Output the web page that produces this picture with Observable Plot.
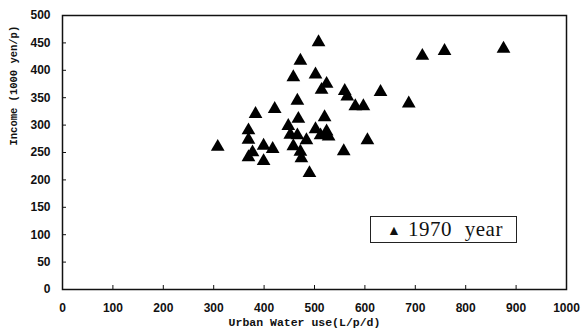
<!DOCTYPE html>
<html>
<head>
<meta charset="utf-8">
<script src="https://cdn.jsdelivr.net/npm/d3@7"></script>
<script src="https://cdn.jsdelivr.net/npm/@observablehq/plot@0.6"></script>
<style>
  html, body { margin: 0; padding: 0; background: #fff; }
  #wrap { position: relative; width: 581px; height: 333px; }
  #legend {
    position: absolute; left: 370px; top: 216px; width: 145px; height: 25px;
    border: 1.5px solid #222; background: #fff; box-sizing: content-box;
    font-family: "Liberation Serif", "DejaVu Serif", serif; font-size: 21px;
    line-height: 25px; color: #111; white-space: nowrap;
  }
  #legend .sym { position: absolute; left: 16px; top: 0px; font-size: 14px; line-height: 27px; }
  #legend .txt { position: absolute; left: 37px; top: 0px; word-spacing: 7px; letter-spacing: 0.5px; }
</style>
</head>
<body>
<div id="wrap"></div>
<script>
// Urban water use (L/p/d) and income (1000 yen/p), 1970
const waterUse = [308, 369, 369, 369, 377, 383, 399, 399, 417, 421,
                  448, 452, 458, 466, 468, 466, 458, 472, 508, 502,
                  524, 514, 484, 472, 474, 490, 502, 512, 520, 524,
                  528, 558, 560, 565, 581, 597, 631, 605, 687, 714,
                  758, 875];
const income =   [264, 294, 277, 245, 254, 324, 266, 238, 260, 333,
                  302, 286, 265, 285, 315, 348, 391, 421, 455, 396,
                  379, 368, 276, 255, 243, 216, 296, 285, 318, 292,
                  283, 256, 366, 356, 338, 338, 364, 276, 343, 430,
                  439, 443];
const xTicks = [0, 100, 200, 300, 400, 500, 600, 700, 800, 900, 1000];
const yTicks = [0, 50, 100, 150, 200, 250, 300, 350, 400, 450, 500];
const xTitle = "Urban Water use(L/p/d)";
const yTitle = "Income (1000 yen/p)";
const legendLabel = "1970 year";

const data = waterUse.map((w, i) => ({w, inc: income[i]}));
const tickFont = "Liberation Sans, Arial, sans-serif";
const titleFont = "Liberation Mono, DejaVu Sans Mono, monospace";

const chart = Plot.plot({
  width: 581,
  height: 333,
  marginLeft: 62,
  marginRight: 15,
  marginTop: 15,
  marginBottom: 44,
  style: {background: "#fff", color: "#111"},
  x: {domain: [0, 1000], ticks: xTicks, tickFormat: d => String(d)},
  y: {domain: [0, 500], ticks: yTicks, tickFormat: d => String(d)},
  marks: [
    Plot.axisX(xTicks, {tickSize: 0, tickPadding: 14, label: null, tickFormat: d => String(d), fontSize: 12, fontWeight: "bold", fontFamily: tickFont}),
    Plot.axisY(yTicks, {tickSize: 0, tickPadding: 12, label: null, tickFormat: d => String(d), fontSize: 12, fontWeight: "bold", fontFamily: tickFont}),
    Plot.tickX(xTicks, {x: d => d, insetTop: 270, stroke: "#111", strokeWidth: 1}),
    Plot.tickY(yTicks, {y: d => d, insetRight: 500, stroke: "#111", strokeWidth: 1}),
    Plot.frame({stroke: "#111", strokeWidth: 1.5}),
    Plot.dot(data, {x: "w", y: "inc", dy: 2, symbol: "triangle", r: 5.1, fill: "#000", stroke: "none"}),
    Plot.text([xTitle], {frameAnchor: "bottom", dy: 36, dx: -10, fontSize: 11.5, fontWeight: "bold", fontFamily: titleFont, fill: "#111"}),
    Plot.text([yTitle], {frameAnchor: "left", dx: -49, dy: -7, rotate: -90, fontSize: 10.5, fontWeight: "bold", fontFamily: titleFont, fill: "#111"})
  ]
});

const wrap = document.getElementById("wrap");
wrap.appendChild(chart);
const legend = document.createElement("div");
legend.id = "legend";
legend.innerHTML = `<span class="sym">▲</span><span class="txt">${legendLabel}</span>`;
wrap.appendChild(legend);
</script>
</body>
</html>
